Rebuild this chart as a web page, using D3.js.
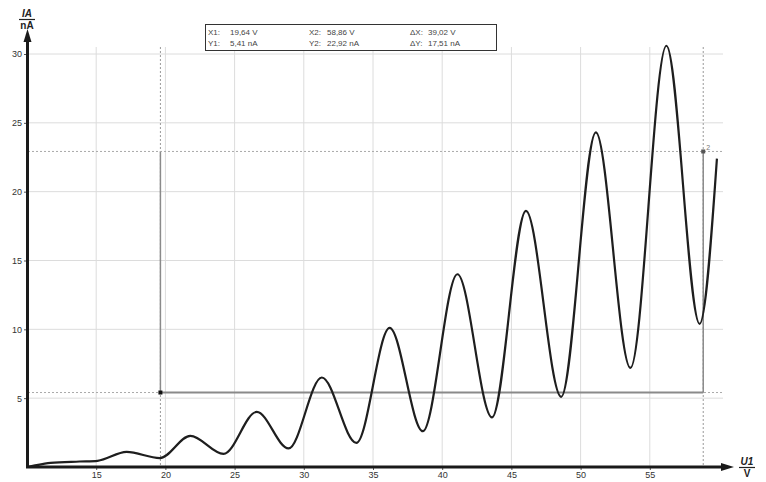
<!DOCTYPE html>
<html>
<head>
<meta charset="utf-8">
<title>Franck-Hertz</title>
<script src="https://cdn.jsdelivr.net/npm/d3@7"></script>
<style>
  body { margin: 0; background: #fff; }
  text { font-family: "Liberation Sans", Arial, sans-serif; }
</style>
</head>
<body>
<div id="container"></div>
<script>
// measured curve U1 (V) -> IA (nA)
var voltage = [10, 10.5, 11.7, 13.8, 15.1, 17.2, 19.6, 21.8, 24.2, 26.6, 28.9, 31.3, 33.8, 36.2, 38.6,
               41.1, 43.6, 46.05, 48.6, 51.1, 53.6, 56.2, 58.6, 59.85];
var current = [0, 0.1, 0.3, 0.4, 0.45, 1.1, 0.65, 2.26, 0.95, 4.0, 1.35, 6.5, 1.75, 10.1, 2.6,
               14.0, 3.6, 18.6, 5.1, 24.3, 7.2, 30.6, 10.4, 22.4];
var xTicks = [15, 20, 25, 30, 35, 40, 45, 50, 55];
var yTicks = [5, 10, 15, 20, 25, 30];
var cursorX = [19.64, 58.86];
var cursorY = [5.41, 22.92];
var readout = [["X1:", "19,64 V", "X2:", "58,86 V", "\u0394X:", "39,02 V"],
               ["Y1:", "5,41 nA", "Y2:", "22,92 nA", "\u0394Y:", "17,51 nA"]];

var width = 766, height = 482;
var x = d3.scaleLinear().domain([10, 60]).range([27, 719]);
var y = d3.scaleLinear().domain([0, 30]).range([467, 54]);

var svg = d3.select("#container").append("svg")
  .attr("width", width).attr("height", height);

// grid
svg.append("g").selectAll("line").data(xTicks).enter().append("line")
  .attr("x1", d => x(d)).attr("x2", d => x(d))
  .attr("y1", 47).attr("y2", 467)
  .attr("stroke", "#dcdcdc").attr("stroke-width", 1);
svg.append("g").selectAll("line").data(yTicks).enter().append("line")
  .attr("x1", 27).attr("x2", 723)
  .attr("y1", d => y(d)).attr("y2", d => y(d))
  .attr("stroke", "#dcdcdc").attr("stroke-width", 1);

// cursor lines
var cur = svg.append("g");
cursorX.forEach(function(v) {
  cur.append("line").attr("x1", x(v)).attr("x2", x(v)).attr("y1", 47).attr("y2", 467)
    .attr("stroke", "#999").attr("stroke-dasharray", "2,2");
  cur.append("line").attr("x1", x(v)).attr("x2", x(v))
    .attr("y1", y(cursorY[1])).attr("y2", y(cursorY[0]))
    .attr("stroke", "#8a8a8a").attr("stroke-width", 1.5);
});
cursorY.forEach(function(v) {
  cur.append("line").attr("x1", 28).attr("x2", 722).attr("y1", y(v)).attr("y2", y(v))
    .attr("stroke", "#aaa").attr("stroke-dasharray", "2,2");
});
cur.append("line").attr("x1", x(cursorX[0])).attr("x2", x(cursorX[1]))
  .attr("y1", y(cursorY[0])).attr("y2", y(cursorY[0]))
  .attr("stroke", "#8a8a8a").attr("stroke-width", 2);

// curve
var pts = voltage.map(function(v, i) { return [v, current[i]]; });
var line = d3.line()
  .x(d => x(d[0]))
  .y(d => y(d[1]))
  .curve(d3.curveMonotoneX);
svg.append("path").datum(pts)
  .attr("d", line)
  .attr("fill", "none")
  .attr("stroke", "#1e1e1e")
  .attr("stroke-width", 2.2)
  .attr("stroke-linejoin", "round");

// cursor points
cur.append("rect").attr("x", x(cursorX[0]) - 2).attr("y", y(cursorY[0]) - 2)
  .attr("width", 4).attr("height", 4).attr("fill", "#111");
cur.append("rect").attr("x", x(cursorX[1]) - 2).attr("y", y(cursorY[1]) - 2)
  .attr("width", 4).attr("height", 4).attr("fill", "#555");
cur.append("text").attr("x", x(cursorX[1]) + 3).attr("y", y(cursorY[1]) - 1)
  .attr("font-size", 7).attr("fill", "#777").text("2");

// axes
var yAxis = svg.append("g").attr("transform", "translate(27,0)")
  .call(d3.axisLeft(y).tickValues(yTicks).tickSize(3).tickPadding(2));
var xAxis = svg.append("g").attr("transform", "translate(0,467)")
  .call(d3.axisBottom(x).tickValues(xTicks).tickSize(3).tickPadding(2));
[yAxis, xAxis].forEach(function(g) {
  g.select(".domain").remove();
  g.selectAll("line").attr("stroke", "#555");
  g.selectAll("text").attr("font-size", 9).attr("fill", "#333")
    .attr("font-family", "Liberation Sans, Arial, sans-serif");
});

svg.append("line").attr("x1", 27.5).attr("x2", 27.5).attr("y1", 468).attr("y2", 40)
  .attr("stroke", "#1a1a1a").attr("stroke-width", 3);
svg.append("path").attr("d", "M27.5,29 L23.5,42 L31.5,42 Z").attr("fill", "#1a1a1a");
svg.append("line").attr("x1", 26).attr("x2", 722).attr("y1", 467).attr("y2", 467)
  .attr("stroke", "#1a1a1a").attr("stroke-width", 3);
svg.append("path").attr("d", "M734,467 L721,463 L721,471 Z").attr("fill", "#1a1a1a");

// axis labels
function unitLabel(cx, top, q, u) {
  var g = svg.append("g");
  g.append("text").attr("x", cx).attr("y", top + 8).attr("text-anchor", "middle")
    .attr("font-size", 10).attr("font-style", "italic").attr("font-weight", "bold")
    .attr("fill", "#222").text(q);
  g.append("line").attr("x1", cx - 8).attr("x2", cx + 8).attr("y1", top + 10.5).attr("y2", top + 10.5)
    .attr("stroke", "#222").attr("stroke-width", 1.2);
  g.append("text").attr("x", cx).attr("y", top + 20).attr("text-anchor", "middle")
    .attr("font-size", 10).attr("font-weight", "bold").attr("fill", "#222").text(u);
}
unitLabel(27, 9, "IA", "nA");
unitLabel(747, 457, "U1", "V");

// readout box
var box = svg.append("g");
box.append("rect").attr("x", 205.5).attr("y", 24.5).attr("width", 291).attr("height", 26)
  .attr("fill", "#fff").attr("stroke", "#333").attr("stroke-width", 1);
var cols = [208, 230, 309, 327, 410, 428];
readout.forEach(function(row, r) {
  row.forEach(function(t, c) {
    box.append("text").attr("x", cols[c]).attr("y", 35 + r * 11)
      .attr("font-size", 8).attr("fill", "#444").text(t);
  });
});
</script>
</body>
</html>
